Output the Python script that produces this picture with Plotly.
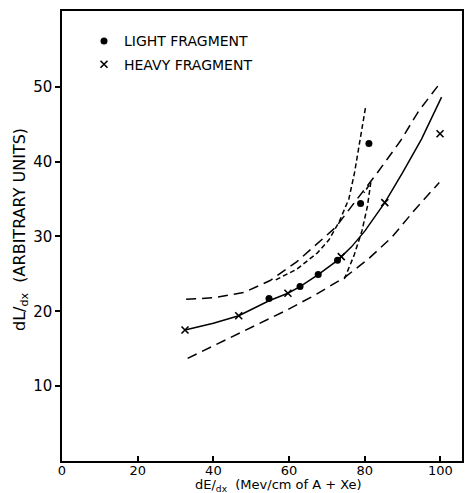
import plotly.graph_objects as go

# Data
light_x = [54.7, 62.9, 67.7, 72.8, 78.9, 81.1]
light_y = [21.7, 23.3, 24.9, 26.8, 34.4, 42.4]

heavy_x = [32.5, 46.7, 59.7, 73.8, 85.3, 99.9]
heavy_y = [17.5, 19.4, 22.4, 27.3, 34.5, 43.7]

solid_x = [32.5, 40.0, 46.7, 54.7, 59.7, 62.9, 67.7, 72.8, 76.5, 80.0, 85.3, 90.0, 95.0, 100.3]
solid_y = [17.5, 18.4, 19.4, 21.4, 22.4, 23.3, 24.9, 26.8, 28.6, 30.7, 34.5, 38.5, 43.0, 48.6]

upper_x = [32.8, 40.0, 48.0, 55.0, 62.0, 67.0, 72.3, 78.0, 83.2, 89.5, 94.2, 100.1]
upper_y = [21.6, 21.8, 22.5, 24.1, 26.6, 28.8, 31.2, 35.0, 38.4, 42.8, 46.7, 50.6]

lower_x = [33.2, 40.0, 46.8, 53.0, 59.2, 67.0, 74.9, 81.0, 87.2, 93.3, 99.7]
lower_y = [13.7, 15.4, 17.0, 18.6, 20.1, 22.2, 24.6, 27.0, 29.9, 33.6, 37.2]

shortA_x = [56.5, 62.0, 67.5, 70.5, 73.3, 75.8, 77.3, 78.7, 80.2]
shortA_y = [24.2, 25.6, 27.8, 29.5, 32.0, 35.0, 38.5, 42.8, 47.2]

shortB_x = [74.6, 77.2, 79.3, 80.7, 81.6, 79.8]
shortB_y = [24.3, 27.5, 30.8, 34.0, 37.2, 35.8]

x_ticks = [0, 20, 40, 60, 80, 100]
y_ticks = [10, 20, 30, 40, 50]

fig = go.Figure()
line = dict(color="black", width=1.5)
fig.add_trace(go.Scatter(x=solid_x, y=solid_y, mode="lines", line=line, showlegend=False))
fig.add_trace(go.Scatter(x=upper_x, y=upper_y, mode="lines",
                         line=dict(color="black", width=1.5, dash="10px,6px"), showlegend=False))
fig.add_trace(go.Scatter(x=lower_x, y=lower_y, mode="lines",
                         line=dict(color="black", width=1.5, dash="10px,6px"), showlegend=False))
fig.add_trace(go.Scatter(x=shortA_x, y=shortA_y, mode="lines",
                         line=dict(color="black", width=1.5, dash="5px,3px"), showlegend=False))
fig.add_trace(go.Scatter(x=shortB_x, y=shortB_y, mode="lines",
                         line=dict(color="black", width=1.5, dash="5px,3px"), showlegend=False))
fig.add_trace(go.Scatter(x=light_x, y=light_y, mode="markers", name="LIGHT FRAGMENT",
                         legendgroup="a",
                         marker=dict(symbol="circle", size=7, color="black")))
fig.add_trace(go.Scatter(x=heavy_x, y=heavy_y, mode="markers", name="HEAVY FRAGMENT",
                         legendgroup="b",
                         marker=dict(symbol="x-thin-open", size=7, color="black",
                                     line=dict(color="black", width=1.6))))

font = "DejaVu Sans, Liberation Sans, sans-serif"
fig.update_layout(
    width=465, height=493,
    margin=dict(l=62, r=1, t=11, b=32),
    paper_bgcolor="white", plot_bgcolor="white",
    font=dict(family=font, size=14, color="black"),
    showlegend=True,
    legend=dict(x=0.055, y=0.968, xanchor="left", yanchor="top",
                bgcolor="rgba(0,0,0,0)", tracegroupgap=2,
                font=dict(family=font, size=14, color="black")),
    xaxis=dict(range=[0, 105.7], tickvals=x_ticks, ticktext=[str(v) for v in x_ticks],
               ticks="inside", ticklen=5, tickcolor="black", tickwidth=1.5,
               ticklabelstandoff=-3,
               showline=True, linecolor="black", linewidth=1.5, mirror=True,
               showgrid=False, zeroline=False,
               tickfont=dict(size=13)),
    yaxis=dict(range=[0, 60.1], tickvals=y_ticks, ticktext=[str(v) for v in y_ticks],
               ticks="outside", ticklen=5, tickcolor="black", tickwidth=1.5,
               showline=True, linecolor="black", linewidth=1.5, mirror=True,
               showgrid=False, zeroline=False,
               tickfont=dict(size=15)),
    annotations=[
        dict(text="dE/<sub>dx</sub>  (Mev/cm of A + Xe)", xref="paper", yref="paper",
             x=(280 - 62) / 402, y=(461 - 475) / 450, xanchor="center", yanchor="top",
             showarrow=False, font=dict(size=13)),
        dict(text="dL/<sub>dx</sub>  (ARBITRARY UNITS)", xref="paper", yref="paper",
             x=-0.105, y=(461 - 230) / 450, xanchor="center", yanchor="middle",
             textangle=-90, showarrow=False, font=dict(size=16)),
    ],
)

fig.write_html("out.html")
